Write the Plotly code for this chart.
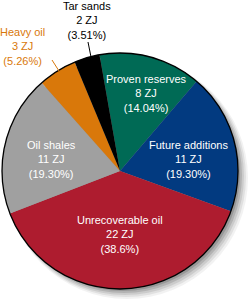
import plotly.graph_objects as go

# Data
names = ["Proven reserves", "Future additions", "Unrecoverable oil", "Oil shales", "Heavy oil", "Tar sands"]
values_zj = [8, 11, 22, 11, 3, 2]
pct_labels = ["14.04%", "19.30%", "38.6%", "19.30%", "5.26%", "3.51%"]
colors = ["#006A55", "#023A80", "#AE1C2F", "#A0A0A0", "#D9780A", "#000000"]
text_colors = ["white", "white", "white", "white", "#D9780A", "black"]
# label anchor positions (pixels from top-left of the 250x303 canvas)
label_xy = [(146, 93), (188, 159), (120, 234), (51, 159), (22, 46), (87, 20)]

W, H = 250, 303
cx, cy, R = 120, 171, 118

def px(x):
    return x / W

def py(y):
    return 1 - y / H

fig = go.Figure()
fig.add_trace(go.Pie(
    labels=names,
    values=values_zj,
    sort=False,
    direction="clockwise",
    rotation=-10,
    marker=dict(colors=colors, line=dict(width=0)),
    textinfo="none",
    hoverinfo="label+value+percent",
    showlegend=False,
    domain=dict(x=[px(cx - R), px(cx + R)], y=[py(cy + R), py(cy - R)]),
))

shapes = []
# soft drop shadow
for off, extra, op in [(7, 3, 0.05), (6, 2, 0.07), (5, 1, 0.09), (4, 0, 0.12), (3, -1, 0.15)]:
    shapes.append(dict(type="circle", xref="paper", yref="paper", layer="below",
                       x0=px(cx - R - extra + off), x1=px(cx + R + extra + off),
                       y0=py(cy + R + extra + off), y1=py(cy - R - extra + off),
                       fillcolor=f"rgba(0,0,0,{op})", line=dict(width=0)))
# outline
shapes.append(dict(type="circle", xref="paper", yref="paper", layer="above",
                   x0=px(cx - R), x1=px(cx + R), y0=py(cy + R), y1=py(cy - R),
                   line=dict(color="black", width=1.3)))
# leader lines for outside labels
for (x0, y0, x1, y1), c in [((52, 60, 59, 71), "#D9780A"), ((88, 42, 91, 57), "black")]:
    shapes.append(dict(type="line", xref="paper", yref="paper",
                       x0=px(x0), y0=py(y0), x1=px(x1), y1=py(y1),
                       line=dict(color=c, width=1)))

annotations = []
for n, v, p, tc, (lx, ly) in zip(names, values_zj, pct_labels, text_colors, label_xy):
    annotations.append(dict(
        x=px(lx), y=py(ly), xref="paper", yref="paper",
        text=f"{n}<br>{v} ZJ<br>({p})", showarrow=False,
        xanchor="center", yanchor="middle", align="center",
        font=dict(family="Liberation Sans, Arial, sans-serif", size=11, color=tc),
    ))

fig.update_layout(
    width=W, height=H,
    margin=dict(l=0, r=0, t=0, b=0),
    paper_bgcolor="white", plot_bgcolor="white",
    shapes=shapes, annotations=annotations,
)

fig.write_html("out.html")
